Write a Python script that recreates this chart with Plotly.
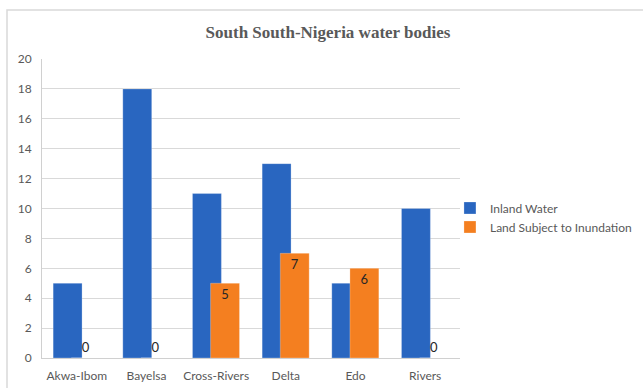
import plotly.graph_objects as go

states = ["Akwa-Ibom", "Bayelsa", "Cross-Rivers", "Delta", "Edo", "Rivers"]
inland_water = [5, 18, 11, 13, 5, 10]
land_inundation = [0, 0, 5, 7, 6, 0]
title_text = "South South-Nigeria water bodies"

BLUE = "#2966C0"
ORANGE = "#F47F20"
GRAY = "#595959"
FONT = "Lato, 'Open Sans', sans-serif"

fig = go.Figure()
fig.add_trace(go.Bar(
    x=states, y=inland_water, name="Inland Water",
    marker=dict(color=BLUE, line=dict(color="rgba(255,255,255,0.5)", width=0.5)),
    width=0.415, offset=-0.34,
))
fig.add_trace(go.Bar(
    x=states, y=land_inundation, name="Land Subject to Inundation",
    marker=dict(color=ORANGE, line=dict(color="rgba(255,255,255,0.5)", width=0.5)),
    width=0.415, offset=-0.08,
    text=[str(v) for v in land_inundation],
    textposition=["outside" if v == 0 else "inside" for v in land_inundation],
    insidetextanchor="end",
    textfont=dict(family=FONT, size=13, color="#262626"),
    cliponaxis=False,
))

fig.update_layout(
    width=643, height=388,
    margin=dict(l=42, r=183, t=59, b=30, autoexpand=False),
    paper_bgcolor="white", plot_bgcolor="white",
    barmode="overlay",
    title=dict(text=f"<b>{title_text}</b>", x=328/643, xanchor="center", xref="container",
               y=1 - 32/388, yanchor="middle", yref="container",
               font=dict(family="'Liberation Serif', 'Times New Roman', serif", size=17, color=GRAY)),
    showlegend=True,
    legend=dict(x=0.976, xanchor="left", y=0.47, yanchor="middle",
                font=dict(family=FONT, size=12, color=GRAY), tracegroupgap=0,
                bgcolor="rgba(0,0,0,0)"),
    font=dict(family=FONT, color=GRAY),
    xaxis=dict(type="category", range=[-0.5, 5.5], showline=True, linecolor="#d0d0d0",
               linewidth=1, ticks="", ticklabelstandoff=7,
               tickfont=dict(family=FONT, size=12, color=GRAY),
               showgrid=False, fixedrange=True),
    yaxis=dict(range=[0, 20], dtick=2, showgrid=True, gridcolor="#d9d9d9", gridwidth=1,
               showline=True, linecolor="#d0d0d0", linewidth=1, ticks="",
               ticklabelstandoff=7,
               tickfont=dict(family=FONT, size=12, color=GRAY), zeroline=False),
    shapes=[dict(type="rect", xref="paper", yref="paper",
                 x0=(7 - 42) / 418, x1=1.6, y0=-0.3, y1=(358 - 10) / 299,
                 line=dict(color="#d9d9d9", width=1.5), fillcolor="rgba(0,0,0,0)", layer="below")],
)

fig.write_html("out.html")
